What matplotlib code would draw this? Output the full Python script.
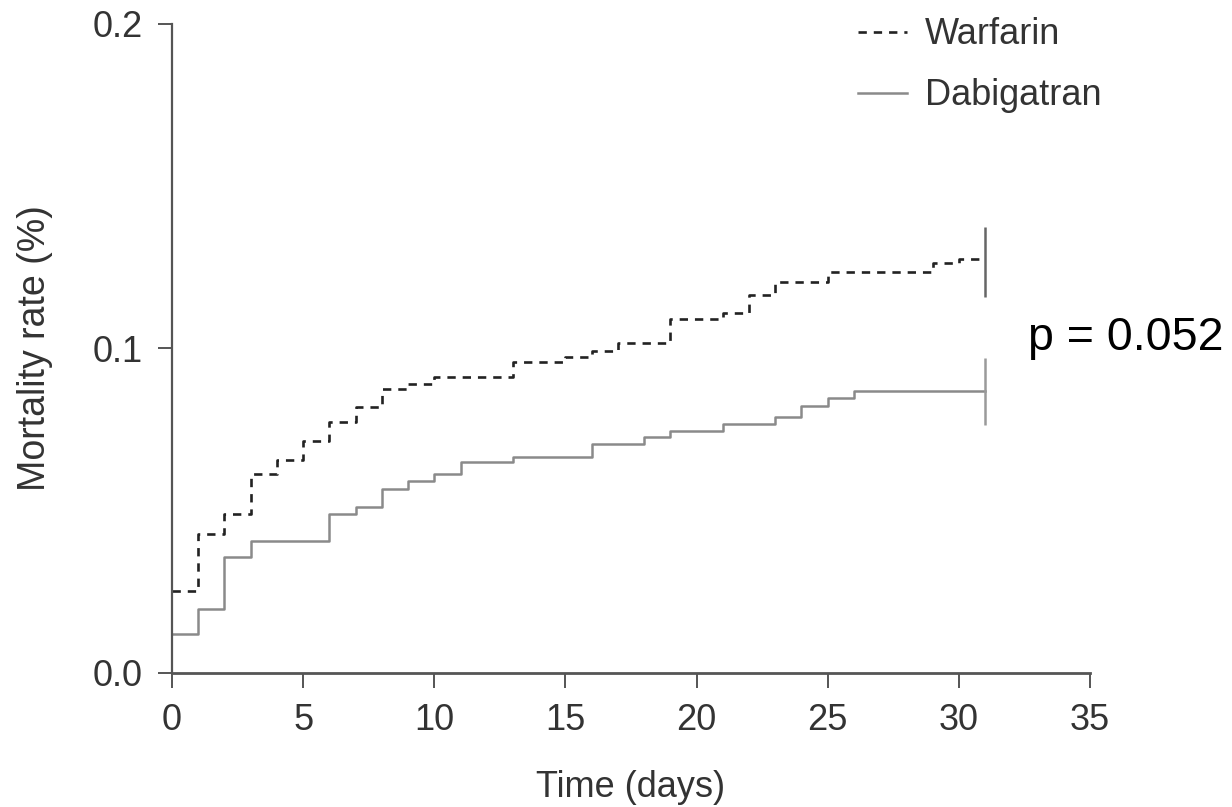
import matplotlib
matplotlib.use("Agg")
import matplotlib.pyplot as plt

plt.rcParams['font.family'] = ['Liberation Sans', 'DejaVu Sans']
plt.rcParams['lines.scale_dashes'] = False

# ---- data ----
warfarin_days = [0, 1, 2, 3, 4, 5, 6, 7, 8, 9, 10, 13, 15, 16, 17, 19, 21, 22, 23, 25, 29, 30, 31]
warfarin_rate = [0.0253, 0.0428, 0.0488, 0.0612, 0.0656, 0.0715, 0.0772, 0.0818, 0.0874, 0.0890,
                 0.0913, 0.0957, 0.0972, 0.0992, 0.1017, 0.1090, 0.1110, 0.1164, 0.1205, 0.1234,
                 0.1262, 0.1274, 0.1274]
dabigatran_days = [0, 1, 2, 3, 6, 7, 8, 9, 10, 11, 13, 16, 18, 19, 21, 23, 24, 25, 26, 31]
dabigatran_rate = [0.0119, 0.0196, 0.0356, 0.0407, 0.0488, 0.0512, 0.0566, 0.0591, 0.0612, 0.0649,
                   0.0665, 0.0705, 0.0726, 0.0746, 0.0767, 0.0787, 0.0823, 0.0848, 0.0868, 0.0868]
censor_day = 31
warfarin_censor = [0.1157, 0.1375]
dabigatran_censor = [0.0764, 0.0969]
x_ticks = [0, 5, 10, 15, 20, 25, 30, 35]
y_ticks = [0.0, 0.1, 0.2]
y_tick_labels = ['0.0', '0.1', '0.2']
p_text = 'p = 0.052'

# ---- figure ----
fig = plt.figure(figsize=(12.32, 8.07), dpi=100)
ax = fig.add_axes([172 / 1232, 1 - 672.7 / 807, (1090 - 172) / 1232, 648.8 / 807])

axis_color = '#555555'
w_line, = ax.step(warfarin_days, warfarin_rate, where='post', color='#222222', lw=1.9,
                  dashes=(6.0, 5.0), label='Warfarin')
d_line, = ax.step(dabigatran_days, dabigatran_rate, where='post', color='#8a8a8a', lw=1.8,
                  label='Dabigatran')
ax.vlines(censor_day, warfarin_censor[0], warfarin_censor[1], color='#666666', lw=1.8)
ax.vlines(censor_day, dabigatran_censor[0], dabigatran_censor[1], color='#9a9a9a', lw=1.8)

ax.set_xlim(0, 35)
ax.set_ylim(0, 0.2)
ax.set_xticks(x_ticks)
ax.set_yticks(y_ticks)
ax.set_yticklabels(y_tick_labels)

for s in ['top', 'right']:
    ax.spines[s].set_visible(False)
ax.spines['left'].set_color(axis_color)
ax.spines['bottom'].set_color(axis_color)
ax.spines['left'].set_linewidth(1.6)
ax.spines['bottom'].set_linewidth(2.0)

ax.tick_params(axis='x', length=11, width=1.4, color=axis_color, labelsize=26, pad=11,
               labelcolor='#333333')
ax.tick_params(axis='y', length=10, width=1.4, color=axis_color, labelsize=26, pad=11,
               labelcolor='#333333')

ax.set_xlabel('Time (days)', fontsize=26, color='#333333')
ax.set_ylabel('Mortality rate (%)', fontsize=27, color='#333333')
ax.xaxis.set_label_coords(0.5, (672.7 - 770) / 648.8, transform=ax.transAxes)
ax.yaxis.set_label_coords((53 - 172) / 918, 0.5, transform=ax.transAxes)

fig.text(1028 / 1232, 1 - 338 / 807, p_text, fontsize=33.5, color='black',
         ha='left', va='center')

leg = fig.legend(handles=[w_line, d_line], loc='upper left',
                 bbox_to_anchor=(851 / 1232, 1 - 10 / 807), frameon=False, fontsize=26,
                 handlelength=1.35, handletextpad=0.5, labelspacing=0.72,
                 borderaxespad=0, borderpad=0.2)
for t in leg.get_texts():
    t.set_color('#333333')

fig.savefig('out.png', dpi=100)
